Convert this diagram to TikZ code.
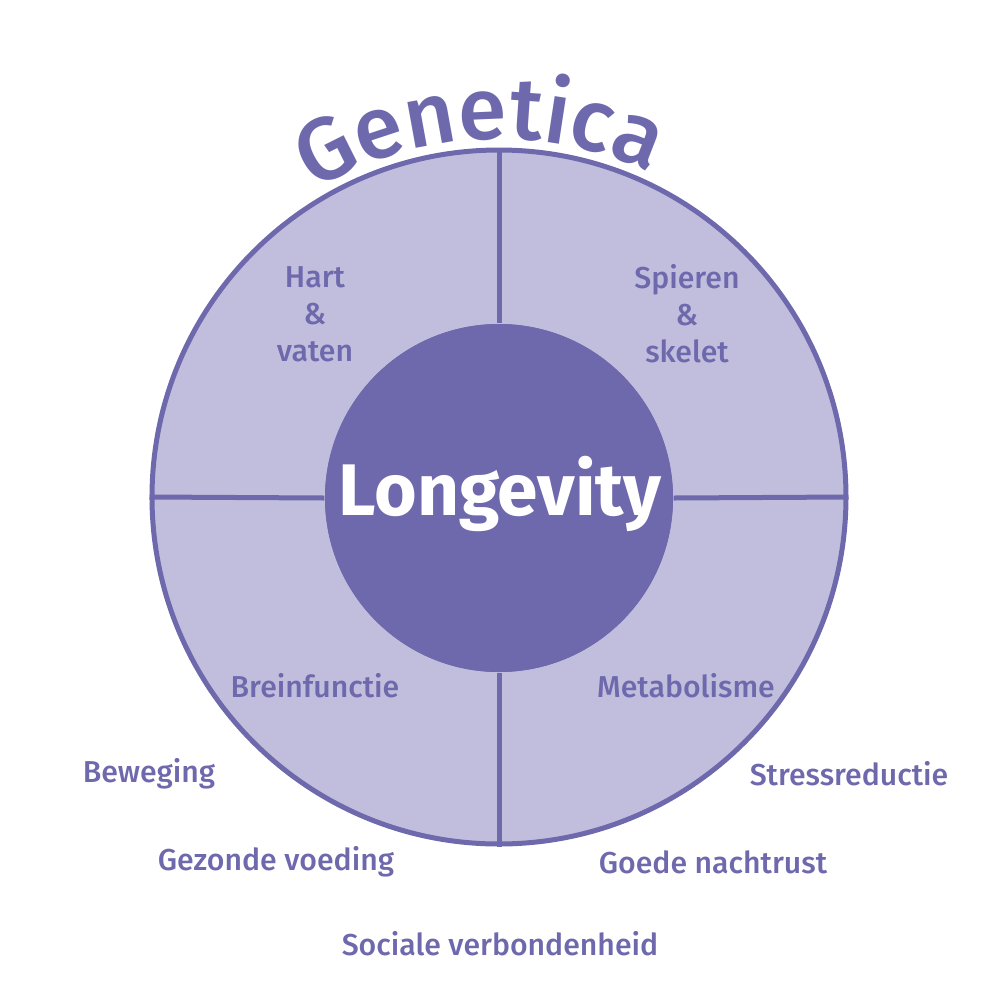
\documentclass[tikz,border=0pt]{standalone}
\usepackage{fontspec}
\setmainfont{Fira Sans}
\newfontfamily\medfont{Fira Sans Medium}
\usetikzlibrary{decorations.text}
\definecolor{pdark}{HTML}{6E69AC}
\definecolor{plight}{HTML}{C1BEDD}
\tikzset{
  lbl/.style={text=pdark, align=center, font=\medfont\fontsize{8.6}{10.5}\selectfont, inner sep=0pt},
  divider/.style={draw=pdark, line width=0.5mm},
}
\begin{document}
\begin{tikzpicture}[x=0.1mm, y=-0.1mm]
\useasboundingbox (0,0) rectangle (1000,1000);
\node[circle, fill=plight, draw=pdark, line width=0.5mm, minimum size=69.4mm, inner sep=0pt] (outer) at (499,497) {};
\node[circle, fill=pdark, minimum size=34.8mm, inner sep=0pt] (inner) at (499,498) {};
\draw[divider] (outer.north) -- (inner.north);
\draw[divider] (inner.south) -- (outer.south);
\draw[divider] (outer.west) -- (inner.west);
\draw[divider] (inner.east) -- (outer.east);
\node[circle, fill=pdark, minimum size=34.8mm, inner sep=0pt] (core) at (499,498) {};
\node[text=white, font=\bfseries\fontsize{20.8}{24}\selectfont, inner sep=0pt] (longevity) at (500,494) {Longevity};
\path[decorate, decoration={text along path, text align=center,
  text={|\medfont\fontsize{25}{25}\selectfont\color{pdark}|Genetica}}]
  (499,497) ++(177:358) arc[start angle=177, end angle=357, radius=358];
\node[lbl] (hart) at (315,314) {Hart\\\&\\vaten};
\node[lbl] (spieren) at (687,314) {Spieren\\\&\\skelet};
\node[lbl] (brein) at (315,686) {Breinfunctie};
\node[lbl] (meta) at (686,686) {Metabolisme};
\node[lbl] (beweging) at (149,774) {Beweging};
\node[lbl] (stress) at (849,774) {Stressreductie};
\node[lbl] (voeding) at (276,862) {Gezonde voeding};
\node[lbl] (nacht) at (713,862) {Goede nachtrust};
\node[lbl] (sociaal) at (500,944) {Sociale verbondenheid};
\end{tikzpicture}
\end{document}
